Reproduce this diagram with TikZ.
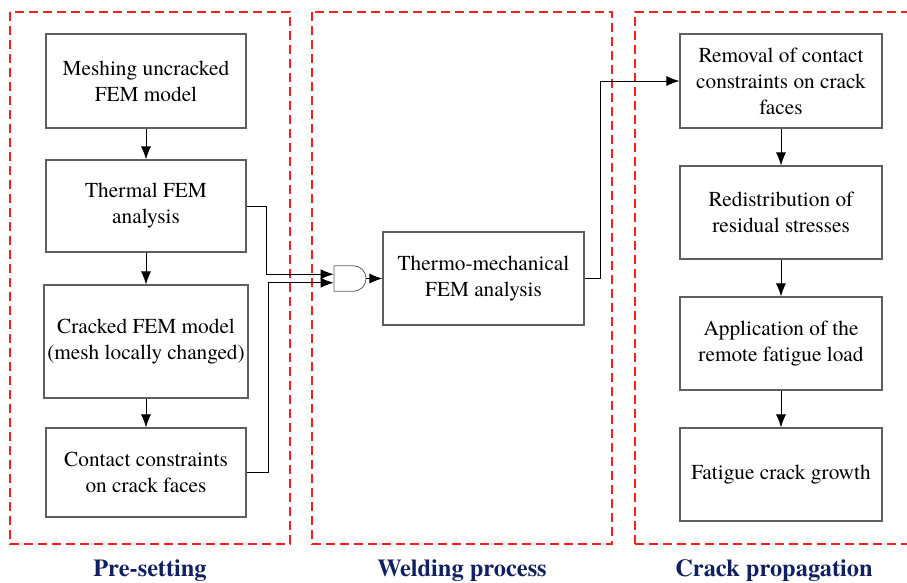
\documentclass[tikz,border=0pt]{standalone}
\usepackage{fontspec}
\setmainfont{texgyretermes}[Extension=.otf, UprightFont=*-regular, BoldFont=*-bold]
\usepackage{xcolor}
\usepackage{tikz}
\usetikzlibrary{positioning}
\usetikzlibrary{arrows.meta,shapes.gates.logic.US,calc}
\definecolor{stagered}{RGB}{255,30,30}
\definecolor{captionblue}{RGB}{16,32,96}
\definecolor{boxgray}{RGB}{95,95,95}

\begin{document}
\begin{tikzpicture}[x=1pt, y=-1pt,
    box/.style={draw=boxgray, line width=1.1pt, minimum width=200pt,
        align=center, font=\fontsize{21.3}{26}\selectfont},
    flow/.style={-{Latex[length=13pt,width=10pt]}, line width=0.9pt},
    stage/.style={draw=stagered, line width=1.8pt, dash pattern=on 9pt off 5pt},
    caption/.style={text=captionblue, font=\fontsize{24.4}{28}\selectfont\bfseries,
        anchor=base}]
    \useasboundingbox (0,0) rectangle (907,582);
    % Stages
    \draw [stage] (10,12) rectangle (290,544);
    \draw [stage] (312,12) rectangle (612,544);
    \draw [stage] (635,544) -- (635,12) -- (912,12);
    \draw [stage] (635,544) -- (912,544);
    % Pre-setting
    \node [box, minimum height=94pt] (mesh) at (146,81) {Meshing uncracked\\FEM model};
    \node [box, minimum height=92pt] (thermal) at (146,206) {Thermal FEM\\analysis};
    \node [box, minimum height=113pt] (cracked) at (146,341.5) {Cracked FEM model\\(mesh locally changed)};
    \node [box, minimum height=89pt] (contact) at (146,472.5) {Contact constraints\\on crack faces};
    % Welding process
    \node [and gate US, draw=boxgray, line width=0.8pt, logic gate inputs=nn,
        minimum width=32pt, minimum height=25pt] (gate) at (349,278.5) {};
    \node [box, minimum width=201pt, minimum height=93pt] (weld) at (483.5,278.5) {Thermo-mechanical\\FEM analysis};
    % Crack propagation
    \node [box, minimum width=202pt, minimum height=94pt] (removal) at (781,81) {Removal of contact\\constraints on crack\\faces};
    \node [box, minimum width=202pt, minimum height=93pt] (redist) at (781,212.5) {Redistribution of\\residual stresses};
    \node [box, minimum width=202pt, minimum height=93pt] (remote) at (781,343.5) {Application of the\\remote fatigue load};
    \node [box, minimum width=202pt, minimum height=93pt] (growth) at (781,474.5) {Fatigue crack growth};
    % Connectors
    \draw [flow] (mesh) -- (thermal);
    \draw [flow] (thermal) -- (cracked);
    \draw [flow] (cracked) -- (contact);
    \draw [flow] (thermal.east) -- ++(20,0) |- (gate.input 1);
    \draw [flow] (contact.east) -- ++(22,0) |- (gate.input 2);
    \draw [flow] (gate.output) -- (weld);
    \draw [flow] (weld.east) -- ++(16,0) |- (removal.west);
    \draw [flow] (removal) -- (redist);
    \draw [flow] (redist) -- (remote);
    \draw [flow] (remote) -- (growth);
    % Captions
    \node [caption] (pre) at (150,576) {Pre-setting};
    \node [caption] (wel) at (462,576) {Welding process};
    \node [caption] (cra) at (774,576) {Crack propagation};
\end{tikzpicture}
\end{document}
